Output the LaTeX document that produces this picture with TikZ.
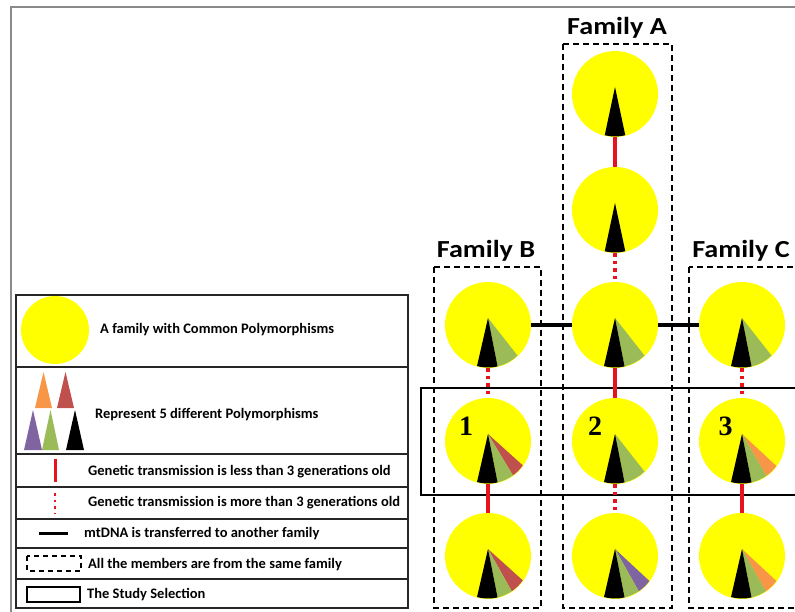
\documentclass[tikz,border=0pt]{standalone}
\usepackage{fontspec}
\usepackage{graphicx}
\setmainfont{Carlito}
\newfontfamily\numfont{Liberation Serif}
\usetikzlibrary{calc}
\definecolor{famyellow}{HTML}{FFFF00}
\definecolor{pgreen}{HTML}{9BBB59}
\definecolor{pred}{HTML}{C0504D}
\definecolor{porange}{HTML}{F79646}
\definecolor{ppurple}{HTML}{8064A2}
\definecolor{framegray}{HTML}{8A8A8A}
\definecolor{linkred}{HTML}{E8141B}
\newcommand{\pieslice}[4]{\fill[#1] ($(#2)+(0,7)$) -- ($(#2)+(#3:42.5)$) arc[start angle=#3, end angle=#4, radius=42.5] -- cycle;}
\tikzset{
  fam/.style={circle, fill=famyellow, inner sep=0pt, minimum size=86pt},
  solidlink/.style={draw=linkred, line width=3.5pt},
  dotlink/.style={draw=linkred, line width=3.5pt, dash pattern=on 3.5pt off 4pt},
  transfer/.style={draw=black, line width=3.5pt},
  familybox/.style={draw=black, line width=1.5pt, dash pattern=on 6pt off 4pt},
  studybox/.style={draw=black, line width=1.6pt},
  famlabel/.style={anchor=base, inner sep=0pt, font=\fontsize{24.5}{28}\selectfont\bfseries},
  numlabel/.style={anchor=base, inner sep=0pt, font=\fontsize{28}{32}\selectfont\numfont\bfseries},
  legtext/.style={anchor=west, inner sep=0pt, font=\fontsize{14.5}{17}\selectfont\bfseries},
  legline/.style={draw=black!85, line width=1.5pt}
}
\begin{document}
\begin{tikzpicture}[x=1pt,y=1pt]
\useasboundingbox (0,0) rectangle (795,-612);
\clip (0,0) rectangle (795,-612);
% outer frame
\draw[framegray, line width=2pt] (11,-612) -- (11,-7.5) -- (800,-7.5);

% family boxes
\draw[familybox] (563,-44) rectangle (672,-608);
\draw[familybox] (434,-267) rectangle (541,-608);
\draw[familybox] (689,-267) rectangle (800,-608);
\node[famlabel] (labA) at (617,-35) {\scalebox{1.15}[1]{Family A}};
\node[famlabel] (labB) at (486,-258) {\scalebox{1.15}[1]{Family B}};
\node[famlabel] (labC) at (741,-258) {\scalebox{1.15}[1]{Family C}};

% study selection
\draw[studybox] (421,-388) rectangle (800,-495);

% circles
\node[fam] (A1) at (615,-94) {};
\node[fam] (A2) at (615,-210) {};
\node[fam] (A3) at (615,-325) {};
\node[fam] (A4) at (615,-441) {};
\node[fam] (A5) at (615,-556) {};
\node[fam] (B1) at (488,-325) {};
\node[fam] (B2) at (488,-441) {};
\node[fam] (B3) at (488,-556) {};
\node[fam] (C1) at (742,-325) {};
\node[fam] (C2) at (742,-441) {};
\node[fam] (C3) at (742,-556) {};

% slices
\pieslice{black}{A1}{-104}{-76}
\pieslice{black}{A2}{-104}{-76}
\foreach \n in {A3,B1,C1,A4}{
  \pieslice{pgreen}{\n}{-77}{-46}
  \pieslice{black}{\n}{-105}{-77}
}
\pieslice{pred}{B2}{-54}{-35}
\pieslice{pgreen}{B2}{-77}{-54}
\pieslice{black}{B2}{-105}{-77}
\pieslice{pred}{B3}{-56}{-35}
\pieslice{pgreen}{B3}{-77}{-56}
\pieslice{black}{B3}{-105}{-77}
\pieslice{porange}{C2}{-55}{-36}
\pieslice{pgreen}{C2}{-77}{-55}
\pieslice{black}{C2}{-105}{-77}
\pieslice{porange}{C3}{-56}{-36}
\pieslice{pgreen}{C3}{-77}{-56}
\pieslice{black}{C3}{-105}{-77}
\pieslice{ppurple}{A5}{-56}{-36}
\pieslice{pgreen}{A5}{-77}{-56}
\pieslice{black}{A5}{-105}{-77}

% connectors
\draw[solidlink] (A1) -- (A2);
\draw[dotlink] (A2) -- (A3);
\draw[solidlink] (A3) -- (A4);
\draw[dotlink] (A4) -- (A5);
\draw[dotlink] (B1) -- (B2);
\draw[solidlink] (B2) -- (B3);
\draw[dotlink] (C1) -- (C2);
\draw[solidlink] (C2) -- (C3);
\draw[transfer] (B1) -- (A3);
\draw[transfer] (A3) -- (C1);

% numbers
\node[numlabel] (n1) at (466,-435) {1};
\node[numlabel] (n2) at (595,-435) {2};
\node[numlabel] (n3) at (725.5,-435) {3};

% legend
\draw[legline] (16,-295) rectangle (408,-608);
\foreach \yy in {367,454,487,519,548,579}{
  \draw[legline] (16,-\yy) -- (408,-\yy);
}
\node[fam, minimum size=68pt] (legcirc) at (55,-330) {};
\node[legtext] (t1) at (100,-330) {A family with Common Polymorphisms};
% triangles
\fill[porange] (35,-408) -- (43.5,-372) -- (52,-408) -- cycle;
\fill[pred] (57,-408) -- (65.5,-372) -- (74,-408) -- cycle;
\fill[ppurple] (24,-450) -- (33,-410) -- (42,-450) -- cycle;
\fill[pgreen] (42,-450) -- (50.5,-410) -- (59,-450) -- cycle;
\fill[black] (66,-450) -- (75,-410) -- (84,-450) -- cycle;
\node[legtext] (t2) at (95,-415) {Represent 5 different Polymorphisms};
\coordinate (r1a) at (55,-459); \coordinate (r1b) at (55,-482);
\draw[solidlink, line width=3pt] (r1a) -- (r1b);
\node[legtext] (t3) at (88,-472) {Genetic transmission is less than 3 generations old};
\coordinate (r2a) at (55,-493); \coordinate (r2b) at (55,-514);
\draw[dotlink, line width=2.5pt, dash pattern=on 2.5pt off 4pt] (r2a) -- (r2b);
\node[legtext] (t4) at (88,-503) {Genetic transmission is more than 3 generations old};
\coordinate (r3a) at (39,-533); \coordinate (r3b) at (68,-533);
\draw[transfer, line width=3pt] (r3a) -- (r3b);
\node[legtext] (t5) at (84,-534) {mtDNA is transferred to another family};
\draw[draw=black, line width=1.3pt, dash pattern=on 5pt off 4pt] (27,-556) rectangle (81,-571);
\node[legtext] (t6) at (88,-565) {All the members are from the same family};
\draw[draw=black, line width=1.3pt] (27,-587) rectangle (80,-602);
\node[legtext] (t7) at (87,-595) {The Study Selection};
\end{tikzpicture}
\end{document}
